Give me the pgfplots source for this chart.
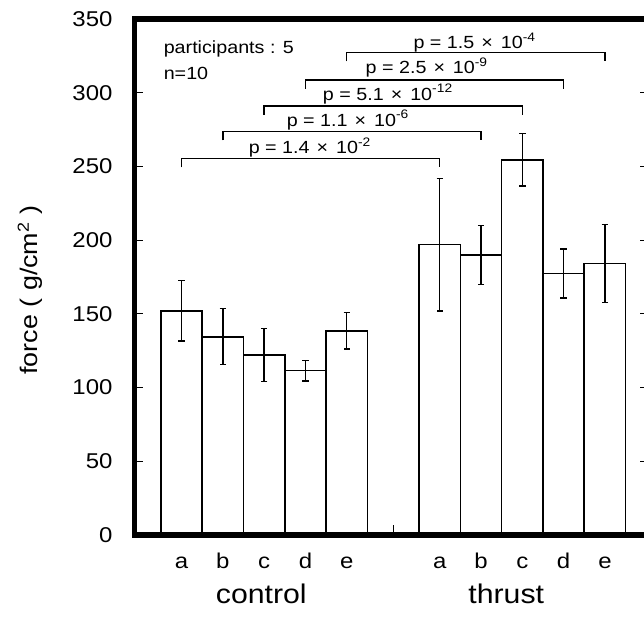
\documentclass[border=0pt]{standalone}
\usepackage{fontspec}
\setmainfont{Liberation Sans}[FakeStretch=1.12]
\usepackage{pgfplots}
\pgfplotsset{compat=1.18}
\usepackage{pgfplotstable}
\pgfplotstableread{
x y err
1 152 20.5
2 134.5 19
3 122 18
4 111.5 7
5 138.5 12.3
7.25 197 45
8.25 190 20
9.25 254.5 17.7
10.25 177.5 16.6
11.25 184.2 26.4
}\databars
\newcommand{\pv}[2]{p = #1\hspace{0.4em}×\hspace{0.45em}10\textsuperscript{#2}}
\begin{document}
\begin{tikzpicture}
\begin{axis}[
  scale only axis, width=256.75pt, height=258pt,
  xmin=-0.138, xmax=12.295, ymin=0, ymax=350,
  axis on top,
  axis line style={line width=2.6pt, line join=miter},
  ytick={0,50,...,350},
  tick align=inside,
  major tick length=4.3pt,
  tick style={black, line width=0.6pt},
  xtick={1,2,3,4,5,7.25,8.25,9.25,10.25,11.25},
  xticklabels={a,b,c,d,e,a,b,c,d,e},
  xtick style={draw=none},
  /pgf/number format/assume math mode=true,
  tick label style={font=\fontsize{10.7}{12}\selectfont},
  xticklabel style={text height=0.75em, text depth=0pt, yshift=-5.5pt},
  yticklabel style={xshift=-7.5pt},
  ylabel={force ( g/cm\textsuperscript{2} )},
  every axis y label/.style={at={(axis description cs:-0.2035,0.475)}, rotate=90, anchor=center, font=\fontsize{12}{14}\selectfont},
  clip=false,
]
\addplot[ybar, bar width=1, fill=white, draw=black, line width=0.8pt,
  error bars/.cd, y dir=both, y explicit, error mark=|,
  error bar style={line width=0.7pt, black},
  error mark options={line width=0.7pt, mark size=1.6pt, black}]
  table[x=x, y=y, y error=err]{\databars};
% minor tick between groups
\addplot[black, line width=0.6pt, mark=none, forget plot] coordinates {(6.125,0) (6.125,6.8)};
% brackets
\addplot[black, line width=0.7pt, mark=none, forget plot] coordinates {(1,249.4) (1,255.4) (7.25,255.4) (7.25,249.4)};
\addplot[black, line width=0.7pt, mark=none, forget plot] coordinates {(2,267.7) (2,273.7) (8.25,273.7) (8.25,267.7)};
\addplot[black, line width=0.7pt, mark=none, forget plot] coordinates {(3,284.9) (3,290.9) (9.25,290.9) (9.25,284.9)};
\addplot[black, line width=0.7pt, mark=none, forget plot] coordinates {(4,302.7) (4,308.7) (10.25,308.7) (10.25,302.7)};
\addplot[black, line width=0.7pt, mark=none, forget plot] coordinates {(5,321.2) (5,327.2) (11.25,327.2) (11.25,321.2)};
\begin{scope}[every node/.style={font=\fontsize{8.8}{10}\selectfont, inner sep=0pt}]
\node at (axis cs:4.11,262.9) {\pv{1.4}{-2}};
\node at (axis cs:5.03,281.4) {\pv{1.1}{-6}};
\node at (axis cs:6.0,299) {\pv{5.1}{-12}};
\node at (axis cs:6.94,317) {\pv{2.5}{-9}};
\node at (axis cs:8.1,334) {\pv{1.5}{-4}};
\node[anchor=west] at (axis cs:0.56,329.5) {participants : 5};
\node[anchor=west] at (axis cs:0.56,313) {n=10};
\end{scope}
\node[anchor=base, font=\fontsize{13.5}{15}\selectfont] at (axis cs:2.93,0) [yshift=-34pt] {control};
\node[anchor=base, font=\fontsize{13.5}{15}\selectfont] at (axis cs:8.86,0) [yshift=-34pt] {thrust};
\coordinate (bbsw) at (axis description cs:-0.262,-0.1705);
\coordinate (bbne) at (axis description cs:0.992,1.0368);
\end{axis}
\pgfresetboundingbox
\useasboundingbox (bbsw) rectangle (bbne);
\end{tikzpicture}
\end{document}
